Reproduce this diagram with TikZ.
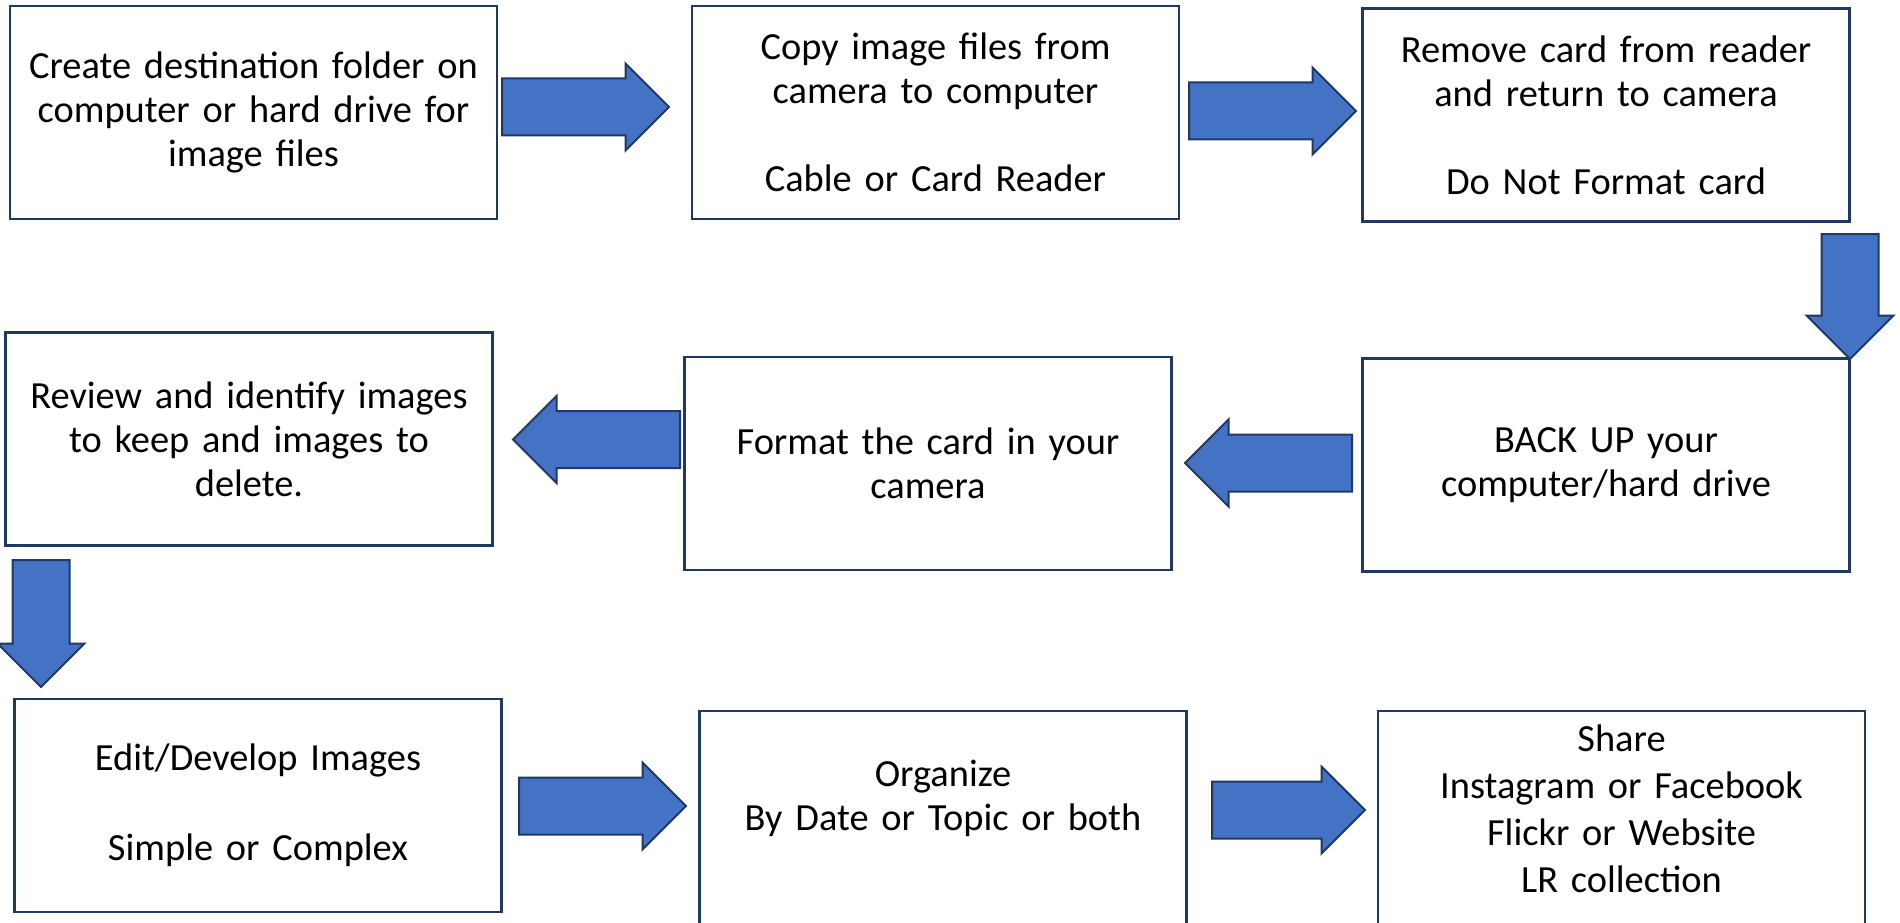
\documentclass[tikz,border=0pt]{standalone}
\usepackage{fontspec}
\setmainfont{Carlito}
\usetikzlibrary{shapes.arrows}
\definecolor{boxline}{HTML}{1F3864}
\definecolor{arrowfill}{HTML}{4472C4}
\definecolor{arrowline}{HTML}{203864}
\tikzset{
	flowbox/.style={rectangle, draw=boxline, line width=2.5pt, fill=white, minimum width=487pt, minimum height=213pt, text width=470pt, align=center, inner sep=0pt, font=\fontsize{38.4}{44}\selectfont},
	blockarrow/.style={single arrow, draw=arrowline, fill=arrowfill, line width=2pt, inner sep=0pt, text height=55pt, text depth=0pt, single arrow head extend=15pt, single arrow tip angle=90, minimum height=#1, anchor=tail},
	blockarrow/.default=167pt
}
\begin{document}
\begin{tikzpicture}[x=1pt, y=-1pt]
	\useasboundingbox (0,0) rectangle (1900,923);
	\node[flowbox] (create) at (253.5,112.5) {Create destination folder on\\computer or hard drive for\\image files};
	\node[flowbox] (copy) at (935.5,112.5) {Copy image files from\\camera to computer\\[44pt]Cable or Card Reader};
	\node[flowbox] (remove) at (1606,115) {Remove card from reader\\and return to camera\\[44pt]Do Not Format card};
	\node[flowbox] (backup) at (1606,465) {BACK UP your\\computer/hard drive};
	\node[flowbox] (format) at (928,463.5) {Format the card in your\\camera};
	\node[flowbox] (review) at (249,439) {Review and identify images\\to keep and images to\\delete.};
	\node[flowbox] (edit) at (258,805.5) {Edit/Develop Images\\[46pt]Simple or Complex};
	\node[flowbox] (organize) at (943,817.5) {Organize\\By Date or Topic or both\\ \mbox{}};
	\node[flowbox, font=\fontsize{38.4}{47}\selectfont] (share) at (1621.5,817.5) {Share\\Instagram or Facebook\\Flickr or Website\\LR collection\\[-30pt]\mbox{}};
	\node[blockarrow] (a1) at (501,107) {};
	\node[blockarrow] (a2) at (1188,111) {};
	\node[blockarrow=125pt, rotate=-90] (a3) at (1850,233) {};
	\node[blockarrow, rotate=180] (a4) at (1353,463) {};
	\node[blockarrow, rotate=180] (a5) at (681,439.5) {};
	\node[blockarrow=127pt, rotate=-90] (a6) at (41,559) {};
	\node[blockarrow] (a7) at (518,806) {};
	\node[blockarrow=153pt] (a8) at (1211,810) {};
\end{tikzpicture}
\end{document}
